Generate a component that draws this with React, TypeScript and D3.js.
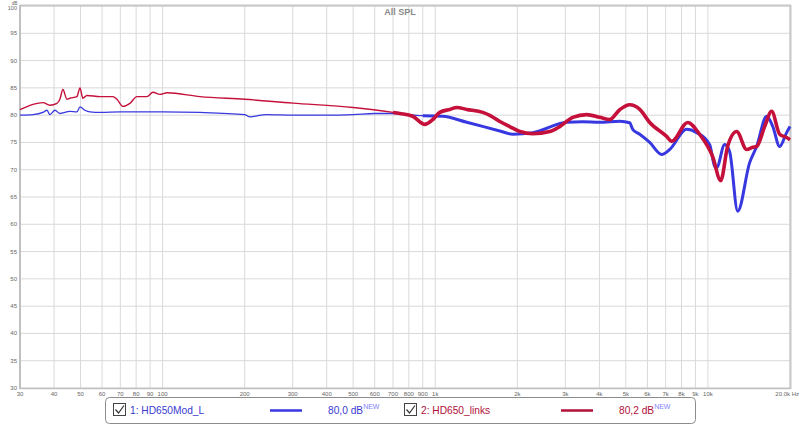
import React from "react";
import * as d3 from "d3";

const W = 800;
const H = 425;

// Blue: 1: HD650Mod_L
const blueFreq = [30, 33.5, 36.4, 37.7, 38.6, 40.3, 42, 45.7, 48.5, 49.8, 51.9, 54.2, 59, 70, 100, 137, 200, 209, 240, 300, 400, 500, 600, 700, 800, 900, 1065, 1305, 1725, 1924, 2279, 3036, 3474, 4011, 4749, 5166, 5299, 5623, 6117, 6767, 7240, 8358, 9096, 10150, 10588, 10767, 11518, 12015, 12858, 14226, 15087, 16422, 17274, 18327, 19440, 20000];
const blueDb = [80.0, 80.1, 80.5, 80.9, 80.1, 80.9, 80.3, 80.7, 80.6, 81.5, 80.9, 80.6, 80.5, 80.6, 80.6, 80.5, 80.1, 79.7, 80.1, 80.0, 80.0, 80.1, 80.3, 80.3, 80.1, 79.9, 79.8, 78.7, 77.1, 76.5, 76.8, 78.7, 78.8, 78.7, 78.9, 78.6, 77.4, 76.5, 75.0, 72.8, 73.7, 77.4, 76.8, 74.6, 70.6, 70.4, 74.6, 73.3, 62.4, 71.3, 74.25, 79.8, 78.0, 74.25, 76.8, 77.9];

// Red: 2: HD650_links
const redFreq = [30, 33.5, 36.4, 38.6, 41, 42, 43.1, 44.6, 45.7, 48.5, 49.8, 51, 52.8, 59, 65.8, 68, 71.6, 75.9, 80.5, 87.6, 92.2, 97.8, 103.8, 137, 200, 300, 500, 700, 741, 827, 915, 980, 1039, 1131, 1200, 1305, 1494, 1585, 1725, 1876, 2042, 2279, 2630, 2861, 3193, 3594, 4011, 4365, 4749, 5166, 5623, 6117, 7058, 7365, 8430, 9330, 10410, 11139, 11814, 12750, 13872, 14600, 15087, 16149, 17130, 18327, 19440, 20000];
const redDb = [81.0, 81.97, 82.3, 81.8, 82.15, 82.9, 84.7, 82.9, 83.1, 83.4, 85.0, 83.1, 83.6, 83.4, 83.4, 82.9, 81.6, 82.15, 83.4, 83.4, 84.2, 83.8, 84.1, 83.4, 82.9, 82.2, 81.4, 80.5, 80.3, 79.8, 78.3, 79.2, 80.5, 81.05, 81.4, 81.05, 80.5, 79.96, 78.84, 77.9, 77.0, 76.6, 77.0, 77.9, 79.6, 80.1, 79.6, 79.2, 81.0, 81.9, 81.05, 78.66, 76.1, 75.2, 78.66, 76.46, 72.4, 68.0, 74.3, 77.0, 73.7, 74.1, 74.25, 77.9, 80.7, 76.5, 75.9, 75.5];

const xGrid = [30, 40, 50, 60, 70, 80, 90, 100, 200, 300, 400, 500, 600, 700, 800, 900, 1000, 2000, 3000, 4000, 5000, 6000, 7000, 8000, 9000, 10000, 20000];
const xLabels = ["30", "40", "50", "60", "70", "80", "90", "100", "200", "300", "400", "500", "600", "700", "800", "900", "1k", "2k", "3k", "4k", "5k", "6k", "7k", "8k", "9k", "10k", "20.0k Hz"];
const yTicks = [30, 35, 40, 45, 50, 55, 60, 65, 70, 75, 80, 85, 90, 95, 100];

const seriesNames = ["1: HD650Mod_L", "2: HD650_links"];
const seriesValues = ["80,0 dB", "80,2 dB"];

const BLUE = "#3838e0";
const RED = "#c4103a";

export default function App() {
  const x = d3.scaleLog().domain([30, 20000]).range([20, 790]);
  const y = d3.scaleLinear().domain([30, 100]).range([388, 6]);

  const mk = (fs: number[], ds: number[]) => fs.map((f, i) => [f, ds[i]] as [number, number]);
  const blue = mk(blueFreq, blueDb);
  const red = mk(redFreq, redDb);

  const line = d3
    .line<[number, number]>()
    .x((d) => x(d[0]))
    .y((d) => y(d[1]))
    .curve(d3.curveMonotoneX);

  const hi = (arr: [number, number][], f0: number) => arr.filter((d) => d[0] >= f0);

  const font = "'Liberation Sans', Arial, sans-serif";

  return (
    <svg
      width={W}
      height={H}
      style={{ position: "absolute", left: 0, top: 0, background: "#fff" }}
      fontFamily={font}
    >
      <rect x={0} y={0} width={W} height={H} fill="#fff" />
      {/* grid */}
      {xGrid.map((f) => (
        <line key={"gx" + f} x1={x(f)} x2={x(f)} y1={6} y2={388} stroke="#d9d9d9" strokeWidth={1} />
      ))}
      {yTicks.map((v) => (
        <line key={"gy" + v} x1={20} x2={790} y1={y(v)} y2={y(v)} stroke="#d9d9d9" strokeWidth={1} />
      ))}
      {/* frame */}
      <line x1={20} x2={791} y1={5.5} y2={5.5} stroke="#c8c8c8" strokeWidth={2} />
      <line x1={790.5} x2={790.5} y1={5} y2={389} stroke="#c8c8c8" strokeWidth={2} />
      <line x1={20} x2={20} y1={5} y2={389} stroke="#c0c0c0" strokeWidth={2} />
      <line x1={20} x2={791} y1={388.5} y2={388.5} stroke="#c0c0c0" strokeWidth={1.5} />

      {/* y labels */}
      {yTicks.map((v) => (
        <text key={"yl" + v} x={17} y={v === 100 ? y(v) + 3.5 : y(v) + 2} fontSize={v === 100 ? 5.5 : 6} fill="#666" textAnchor="end">
          {v}
        </text>
      ))}
      <text x={17.5} y={5} fontSize={4.8} fill="#666" textAnchor="end">dB</text>

      {/* x labels */}
      {xGrid.map((f, i) => (
        <text
          key={"xl" + f}
          x={i === xGrid.length - 1 ? 799 : x(f)}
          y={396}
          fontSize={6}
          fill="#666"
          textAnchor={i === xGrid.length - 1 ? "end" : "middle"}
        >
          {xLabels[i]}
        </text>
      ))}

      {/* title */}
      <text x={400} y={15} fontSize={9} fontWeight="bold" fill="#8a8a8a" textAnchor="middle">
        All SPL
      </text>

      {/* curves */}
      <path d={line(blue) || ""} fill="none" stroke={BLUE} strokeWidth={1.3} />
      <path d={line(hi(blue, 900)) || ""} fill="none" stroke={BLUE} strokeWidth={3} strokeLinejoin="round" />
      <path d={line(red) || ""} fill="none" stroke={RED} strokeWidth={1.4} />
      <path d={line(hi(red, 700)) || ""} fill="none" stroke={RED} strokeWidth={3.6} strokeLinejoin="round" />

      {/* legend */}
      <rect x={105.5} y={397.5} width={590} height={26} rx={4} fill="#fff" stroke="#8c8c8c" strokeWidth={1} />
      {[0, 1].map((i) => {
        const ox = i === 0 ? 0 : 291;
        const col = i === 0 ? "#3a3ad0" : "#b0103a";
        const lc = i === 0 ? BLUE : "#b0103a";
        return (
          <g key={"lg" + i}>
            <rect x={113.5 + ox} y={403.5} width={12} height={12} fill="#fff" stroke="#444" strokeWidth={1} />
            <path d={`M${115.5 + ox},${409.5} L${118.5 + ox},${413} L${124 + ox},${405.5}`} fill="none" stroke="#333" strokeWidth={1.2} />
            <text x={130 + ox} y={414} fontSize={10.2} fill={col}>
              {seriesNames[i]}
            </text>
            <line x1={270 + ox} x2={302 + ox} y1={410.5} y2={410.5} stroke={lc} strokeWidth={2.5} />
            <text x={328 + ox} y={414} fontSize={10.2} fill={col}>
              {seriesValues[i]}
              <tspan fontSize={7} fill="#8080ff" dy={-5}>NEW</tspan>
            </text>
          </g>
        );
      })}
    </svg>
  );
}
